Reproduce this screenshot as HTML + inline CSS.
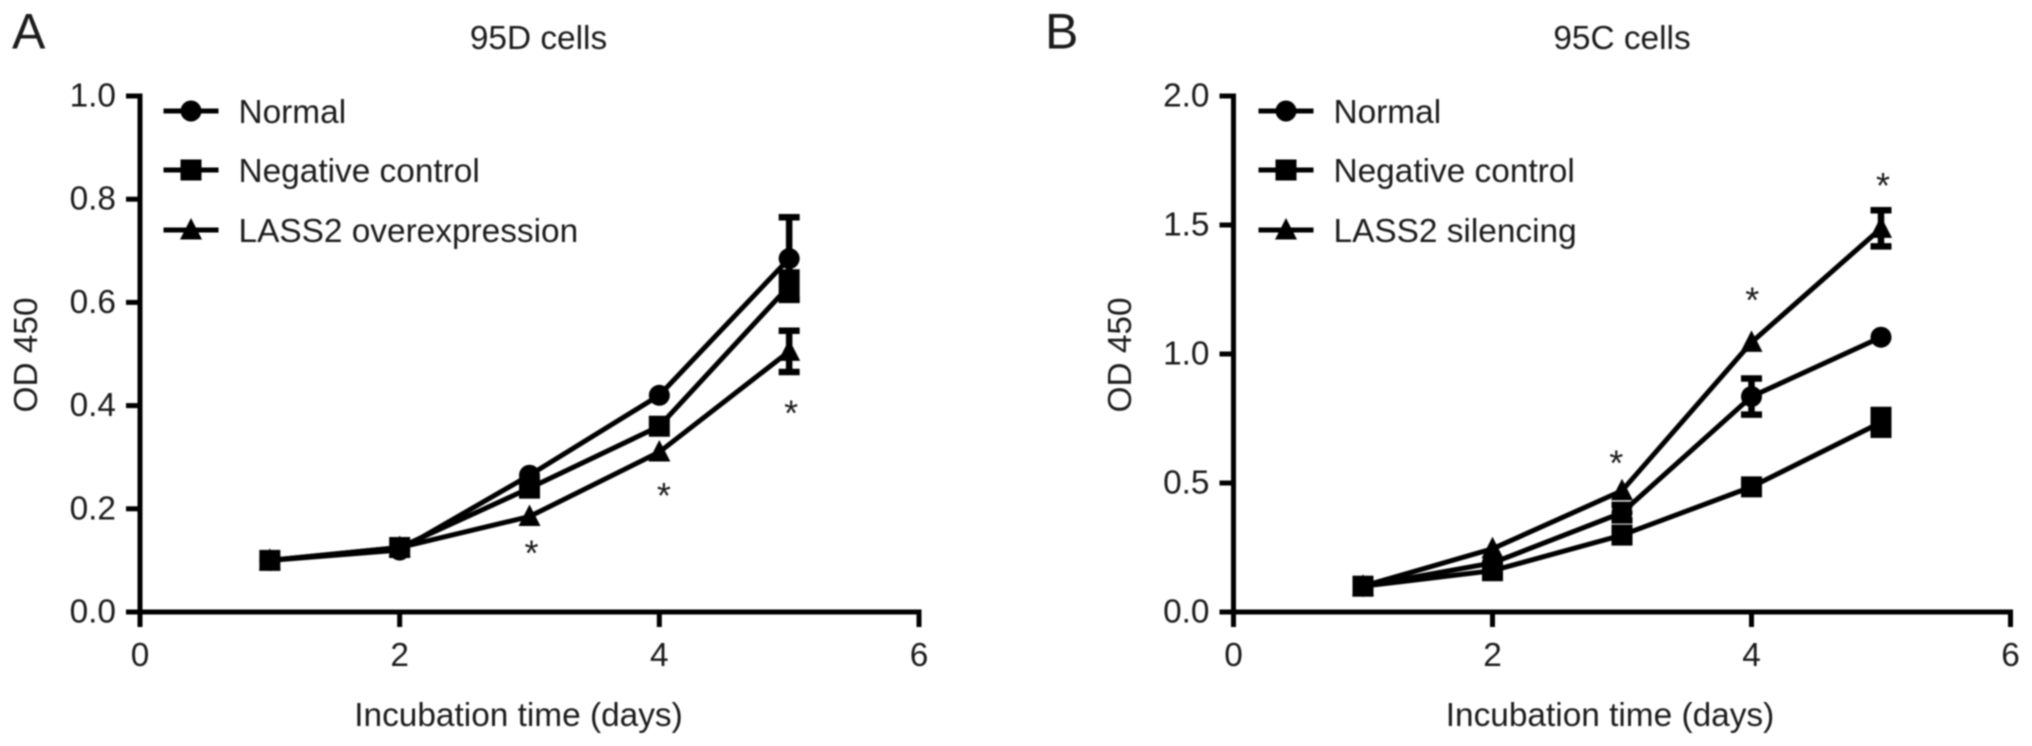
<!DOCTYPE html>
<html>
<head>
<meta charset="utf-8">
<title>OD 450 growth curves</title>
<style>
html,body{margin:0;padding:0;background:#fff;width:2032px;height:746px;overflow:hidden}
svg{display:block;filter:blur(0.75px)}
text{font-family:"Liberation Sans",Arial,sans-serif;fill:#1c1c1c}
</style>
</head>
<body>
<svg id="figure" width="2032" height="746" viewBox="0 0 2032 746" xmlns="http://www.w3.org/2000/svg"></svg>
<script>
// Shared data
const days = [1, 2, 3, 4, 5];
const xTickLabels = [0, 2, 4, 6];

// Panel A: 95D cells
const aNormal = [0.10, 0.12, 0.265, 0.42, 0.685];
const aNormalErr = [0, 0, 0, 0, 0.08];
const aNegative = [0.10, 0.125, 0.24, 0.36, 0.632];
const aNegativeErr = [0, 0, 0, 0, 0.026];
const aLass2 = [0.10, 0.125, 0.185, 0.31, 0.505];
const aLass2Err = [0, 0, 0, 0, 0.04];
const aYTicks = [0, 0.2, 0.4, 0.6, 0.8, 1.0];
const aStarDays = [3, 4.02, 5];
const aStarValues = [0.12, 0.232, 0.391];
const aLabels = ['Normal', 'Negative control', 'LASS2 overexpression'];

// Panel B: 95C cells
const bNormal = [0.10, 0.19, 0.385, 0.835, 1.065];
const bNormalErr = [0, 0, 0.03, 0.07, 0];
const bNegative = [0.10, 0.16, 0.298, 0.485, 0.735];
const bNegativeErr = [0, 0, 0, 0, 0.048];
const bLass2 = [0.10, 0.245, 0.47, 1.045, 1.487];
const bLass2Err = [0, 0, 0, 0, 0.07];
const bYTicks = [0, 0.5, 1.0, 1.5, 2.0];
const bStarDays = [2.94, 3.99, 5];
const bStarValues = [0.59, 1.22, 1.665];
const bLabels = ['Normal', 'Negative control', 'LASS2 silencing'];

const NS = 'http://www.w3.org/2000/svg';
const root = document.getElementById('figure');
const FONT = 33.4;
const STROKE = 5;

function mk(parent, tag, attrs, txt) {
  const el = document.createElementNS(NS, tag);
  for (const k in attrs) el.setAttribute(k, attrs[k]);
  if (txt !== undefined) el.textContent = txt;
  parent.appendChild(el);
  return el;
}

function drawMarker(g, kind, cx, cy) {
  let el;
  if (kind === 'circle') {
    el = mk(g, 'circle', {cx: cx, cy: cy, r: 10.5, fill: '#000'});
  } else if (kind === 'square') {
    el = mk(g, 'rect', {x: cx - 10.5, y: cy - 10.5, width: 21, height: 21, fill: '#000'});
  } else {
    el = mk(g, 'polygon', {points: (cx) + ',' + (cy - 12) + ' ' + (cx + 11) + ',' + (cy + 9.5) + ' ' + (cx - 11) + ',' + (cy + 9.5), fill: '#000'});
  }
  return el;
}

function drawPanel(cfg) {
  const panel = mk(root, 'g', {});
  
  

  const xMin = 0, xMax = 6;
  const xScale = v => cfg.x0 + (v - xMin) / (xMax - xMin) * cfg.plotW;
  const yScale = v => cfg.y0 - v / cfg.yMax * cfg.plotH;

  // Panel letter and title
  const letter = mk(panel, 'text', {x: cfg.letterX, y: 48.5, 'font-size': 50}, cfg.letter);
  
  
  const title = mk(panel, 'text', {x: cfg.titleX, y: 49, 'font-size': FONT, 'text-anchor': 'middle'}, cfg.title);
  
  

  // Axes
  const axisStyle = {stroke: '#000', 'stroke-width': STROKE, fill: 'none'};
  const yAxis = mk(panel, 'line', Object.assign({x1: cfg.x0, x2: cfg.x0, y1: yScale(cfg.yMax) - 2.5, y2: cfg.y0 + 15}, axisStyle));
  
  
  const xAxis = mk(panel, 'line', Object.assign({x1: cfg.x0 - 14, x2: xScale(xMax) + 2.5, y1: cfg.y0, y2: cfg.y0}, axisStyle));
  
  

  cfg.yTicks.forEach(v => {
    const tick = mk(panel, 'line', Object.assign({x1: cfg.x0 - 14, x2: cfg.x0, y1: yScale(v), y2: yScale(v)}, axisStyle));
    
    
    const lab = mk(panel, 'text', {x: cfg.x0 - 24, y: yScale(v) + 10.5, 'font-size': FONT, 'text-anchor': 'end'}, v.toFixed(1));
    
    
  });
  xTickLabels.forEach(v => {
    const tick = mk(panel, 'line', Object.assign({x1: xScale(v), x2: xScale(v), y1: cfg.y0, y2: cfg.y0 + 15}, axisStyle));
    
    
    const lab = mk(panel, 'text', {x: xScale(v), y: 666, 'font-size': FONT, 'text-anchor': 'middle'}, String(v));
    
    
  });

  const xTitle = mk(panel, 'text', {x: cfg.xTitleX, y: 726, 'font-size': FONT, 'text-anchor': 'middle'}, 'Incubation time (days)');
  
  
  const yTitle = mk(panel, 'text', {x: 0, y: 0, 'font-size': FONT, 'text-anchor': 'middle', transform: 'translate(' + cfg.yTitleX + ',355) rotate(-90)'}, 'OD 450');
  
  

  // Series
  cfg.series.forEach(s => {
    const g = mk(panel, 'g', {});
    
    
    const pts = days.map((d, i) => xScale(d) + ',' + yScale(s.values[i])).join(' ');
    const line = mk(g, 'polyline', {points: pts, fill: 'none', stroke: '#000', 'stroke-width': STROKE});
    
    
    days.forEach((d, i) => {
      const cx = xScale(d), cy = yScale(s.values[i]);
      const e = s.errs[i];
      if (e > 0) {
        const hi = yScale(s.values[i] + e), lo = yScale(s.values[i] - e);
        const eb = mk(g, 'path', {d: 'M' + cx + ' ' + hi + 'V' + lo + 'M' + (cx - 10.5) + ' ' + hi + 'H' + (cx + 10.5) + 'M' + (cx - 10.5) + ' ' + lo + 'H' + (cx + 10.5), stroke: '#000', 'stroke-width': 6.5, fill: 'none'});
        
        
      }
      const m = drawMarker(g, s.marker, cx, cy);
      
      
    });
  });

  // Significance stars
  cfg.starDays.forEach((d, i) => {
    const star = mk(panel, 'text', {x: xScale(d) + 2, y: yScale(cfg.starValues[i]) + 15.5, 'font-size': 36, 'text-anchor': 'middle'}, '*');
    
    
  });

  // Legend
  const legendY = [111, 170, 230];
  const baseY = [123, 182, 242];
  const kinds = ['circle', 'square', 'triangle'];
  cfg.labels.forEach((label, i) => {
    const g = mk(panel, 'g', {});
    
    
    mk(g, 'line', {x1: cfg.legendX, x2: cfg.legendX + 55, y1: legendY[i], y2: legendY[i], stroke: '#000', 'stroke-width': STROKE});
    drawMarker(g, kinds[i], cfg.legendX + 27.5, legendY[i]);
    mk(g, 'text', {x: cfg.legendX + 75, y: baseY[i], 'font-size': FONT}, label);
  });
}

drawPanel({
  id: 'panel-a', letter: 'A', letterX: 12, title: '95D cells', titleX: 538.5,
  x0: 140, y0: 612, plotW: 779, plotH: 516, yMax: 1.0, yTicks: aYTicks,
  xTitleX: 518.5, yTitleX: 37, legendX: 163.5,
  starDays: aStarDays, starValues: aStarValues, labels: aLabels,
  series: [
    {name: 'normal', marker: 'circle', values: aNormal, errs: aNormalErr},
    {name: 'negative-control', marker: 'square', values: aNegative, errs: aNegativeErr},
    {name: 'lass2-overexpression', marker: 'triangle', values: aLass2, errs: aLass2Err}
  ]
});

drawPanel({
  id: 'panel-b', letter: 'B', letterX: 1045, title: '95C cells', titleX: 1622,
  x0: 1233.5, y0: 612, plotW: 777, plotH: 516, yMax: 2.0, yTicks: bYTicks,
  xTitleX: 1610, yTitleX: 1131, legendX: 1258.5,
  starDays: bStarDays, starValues: bStarValues, labels: bLabels,
  series: [
    {name: 'normal', marker: 'circle', values: bNormal, errs: bNormalErr},
    {name: 'negative-control', marker: 'square', values: bNegative, errs: bNegativeErr},
    {name: 'lass2-silencing', marker: 'triangle', values: bLass2, errs: bLass2Err}
  ]
});
</script>
</body>
</html>
